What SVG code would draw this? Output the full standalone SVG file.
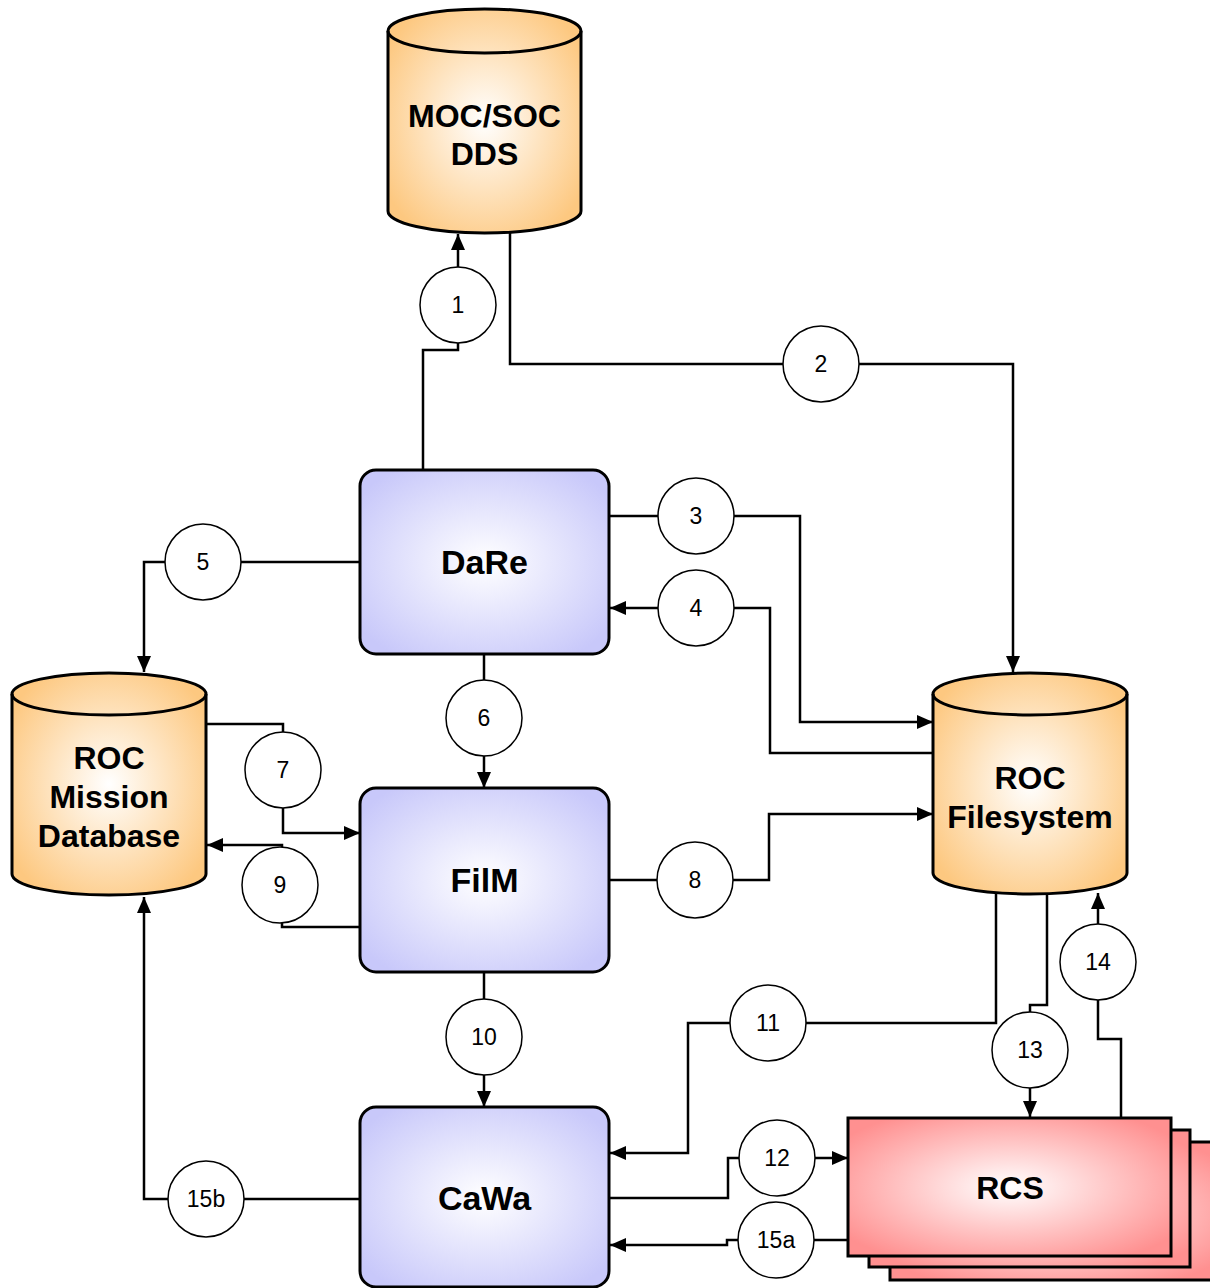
<svg xmlns="http://www.w3.org/2000/svg" width="1210" height="1288" viewBox="0 0 1210 1288">
  <style>
    .cyl { fill: url(#gOrange); stroke: #000; stroke-width: 3; }
    .cylrim { fill: none; stroke: #000; stroke-width: 3; }
    .box { fill: url(#gBlue); stroke: #000; stroke-width: 3; }
    .rcs { fill: url(#gRed); stroke: #000; stroke-width: 3; }
    .title { font-family: "Liberation Sans", Arial, sans-serif; font-weight: bold; fill: #000; text-anchor: middle; }
    .t32 { font-size: 32px; }
    .t34 { font-size: 34px; }
    .wire { fill: none; stroke: #000; stroke-width: 2.5; }
    .arrow { marker-end: url(#head); }
    .tag circle { fill: #fff; stroke: #000; stroke-width: 1.5; }
    .tag text { font-family: "Liberation Sans", Arial, sans-serif; font-size: 23px; fill: #000; text-anchor: middle; }
  </style>
  <defs>
    <radialGradient id="gOrange" cx="50%" cy="50%" r="60%">
      <stop offset="0" stop-color="#ffffff"/>
      <stop offset="1" stop-color="#fdc880"/>
    </radialGradient>
    <radialGradient id="gBlue" cx="50%" cy="50%" r="62%">
      <stop offset="0" stop-color="#ffffff"/>
      <stop offset="1" stop-color="#c8c8fa"/>
    </radialGradient>
    <radialGradient id="gRed" cx="50%" cy="50%" r="62%">
      <stop offset="0" stop-color="#ffffff"/>
      <stop offset="1" stop-color="#ff9090"/>
    </radialGradient>
    <marker id="head" markerUnits="userSpaceOnUse" markerWidth="18" markerHeight="16" refX="16" refY="7" orient="auto">
      <path d="M0,0 L16,7 L0,14 z" fill="#000"/>
    </marker>
  </defs>

  <!-- connectors -->
  <g id="connectors">
    <!-- 1: DaRe -> MOC/SOC DDS -->
    <path class="wire" d="M423,470 V350 H458 V343"/>
    <path class="wire arrow" d="M458,267 V234"/>
    <!-- 2: MOC/SOC DDS -> ROC Filesystem -->
    <path class="wire" d="M510,233 V364 H783"/>
    <path class="wire arrow" d="M859,364 H1013 V672"/>
    <!-- 3: DaRe -> ROC Filesystem -->
    <path class="wire" d="M609,516 H658"/>
    <path class="wire arrow" d="M734,516 H800 V722 H933"/>
    <!-- 4: ROC Filesystem -> DaRe -->
    <path class="wire" d="M933,753 H770 V608 H734"/>
    <path class="wire arrow" d="M658,608 H610"/>
    <!-- 5: DaRe -> ROC Mission Database -->
    <path class="wire" d="M360,562 H241"/>
    <path class="wire arrow" d="M165,562 H144 V672"/>
    <!-- 6: DaRe -> FilM -->
    <path class="wire" d="M484,654 V680"/>
    <path class="wire arrow" d="M484,756 V788"/>
    <!-- 7: ROC Mission Database -> FilM -->
    <path class="wire" d="M206,724 H283 V732"/>
    <path class="wire arrow" d="M283,808 V833 H360"/>
    <!-- 9: FilM -> ROC Mission Database -->
    <path class="wire" d="M360,927 H282 V923"/>
    <path class="wire arrow" d="M282,847 V845 H207"/>
    <!-- 8: FilM -> ROC Filesystem -->
    <path class="wire" d="M609,880 H657"/>
    <path class="wire arrow" d="M733,880 H769 V814 H933"/>
    <!-- 10: FilM -> CaWa -->
    <path class="wire" d="M484,972 V999"/>
    <path class="wire arrow" d="M484,1075 V1107"/>
    <!-- 11: ROC Filesystem -> CaWa -->
    <path class="wire" d="M996,894 V1023 H806"/>
    <path class="wire arrow" d="M730,1023 H688 V1153 H610"/>
    <!-- 12: CaWa -> RCS -->
    <path class="wire" d="M609,1198 H728 V1158 H739"/>
    <path class="wire arrow" d="M815,1158 H848"/>
    <!-- 15a: RCS -> CaWa -->
    <path class="wire" d="M848,1240 H814"/>
    <path class="wire arrow" d="M738,1240 H727 V1245 H610"/>
    <!-- 13: ROC Filesystem -> RCS -->
    <path class="wire" d="M1047,894 V1005 H1030 V1012"/>
    <path class="wire arrow" d="M1030,1088 V1117"/>
    <!-- 14: RCS -> ROC Filesystem -->
    <path class="wire" d="M1121,1117 V1039 H1098 V1000"/>
    <path class="wire arrow" d="M1098,924 V893"/>
    <!-- 15b: CaWa -> ROC Mission Database -->
    <path class="wire" d="M360,1199 H244"/>
    <path class="wire arrow" d="M168,1199 H144 V897"/>
  </g>

  <!-- data stores -->
  <g id="moc-soc-dds">
    <path class="cyl" d="M388,31 A96.5,22 0 0 1 581,31 V211 A96.5,22 0 0 1 388,211 Z"/>
    <path class="cylrim" d="M388,31 A96.5,22 0 0 0 581,31"/>
    <text class="title t32" x="484.5" y="127">MOC/SOC</text>
    <text class="title t32" x="484.5" y="165">DDS</text>
  </g>

  <g id="roc-mission-database">
    <path class="cyl" d="M12,694 A97,21 0 0 1 206,694 V874 A97,21 0 0 1 12,874 Z"/>
    <path class="cylrim" d="M12,694 A97,21 0 0 0 206,694"/>
    <text class="title t32" x="109" y="769">ROC</text>
    <text class="title t32" x="109" y="808">Mission</text>
    <text class="title t32" x="109" y="847">Database</text>
  </g>

  <g id="roc-filesystem">
    <path class="cyl" d="M933,694 A97,21 0 0 1 1127,694 V873 A97,21 0 0 1 933,873 Z"/>
    <path class="cylrim" d="M933,694 A97,21 0 0 0 1127,694"/>
    <text class="title t32" x="1030" y="789">ROC</text>
    <text class="title t32" x="1030" y="828">Filesystem</text>
  </g>

  <!-- processing components -->
  <g id="dare">
    <rect class="box" x="360" y="470" width="249" height="184" rx="16"/>
    <text class="title t34" x="484.5" y="574">DaRe</text>
  </g>

  <g id="film">
    <rect class="box" x="360" y="788" width="249" height="184" rx="16"/>
    <text class="title t34" x="484.5" y="892">FilM</text>
  </g>

  <g id="cawa">
    <rect class="box" x="360" y="1107" width="249" height="180" rx="16"/>
    <text class="title t34" x="484.5" y="1210">CaWa</text>
  </g>

  <g id="rcs">
    <rect class="rcs" x="890" y="1142" width="330" height="138"/>
    <rect class="rcs" x="869" y="1130" width="321" height="137"/>
    <rect class="rcs" x="848" y="1118" width="323" height="138"/>
    <text class="title t32" x="1010" y="1199">RCS</text>
  </g>

  <!-- step numbers on the connectors -->
  <g id="labels">
    <g class="tag"><circle cx="458" cy="305" r="38"/><text x="458" y="313">1</text></g>
    <g class="tag"><circle cx="821" cy="364" r="38"/><text x="821" y="372">2</text></g>
    <g class="tag"><circle cx="696" cy="516" r="38"/><text x="696" y="524">3</text></g>
    <g class="tag"><circle cx="696" cy="608" r="38"/><text x="696" y="616">4</text></g>
    <g class="tag"><circle cx="203" cy="562" r="38"/><text x="203" y="570">5</text></g>
    <g class="tag"><circle cx="484" cy="718" r="38"/><text x="484" y="726">6</text></g>
    <g class="tag"><circle cx="283" cy="770" r="38"/><text x="283" y="778">7</text></g>
    <g class="tag"><circle cx="695" cy="880" r="38"/><text x="695" y="888">8</text></g>
    <g class="tag"><circle cx="280" cy="885" r="38"/><text x="280" y="893">9</text></g>
    <g class="tag"><circle cx="484" cy="1037" r="38"/><text x="484" y="1045">10</text></g>
    <g class="tag"><circle cx="768" cy="1023" r="38"/><text x="768" y="1031">11</text></g>
    <g class="tag"><circle cx="777" cy="1158" r="38"/><text x="777" y="1166">12</text></g>
    <g class="tag"><circle cx="1030" cy="1050" r="38"/><text x="1030" y="1058">13</text></g>
    <g class="tag"><circle cx="1098" cy="962" r="38"/><text x="1098" y="970">14</text></g>
    <g class="tag"><circle cx="776" cy="1240" r="38"/><text x="776" y="1248">15a</text></g>
    <g class="tag"><circle cx="206" cy="1199" r="38"/><text x="206" y="1207">15b</text></g>
  </g>
</svg>
